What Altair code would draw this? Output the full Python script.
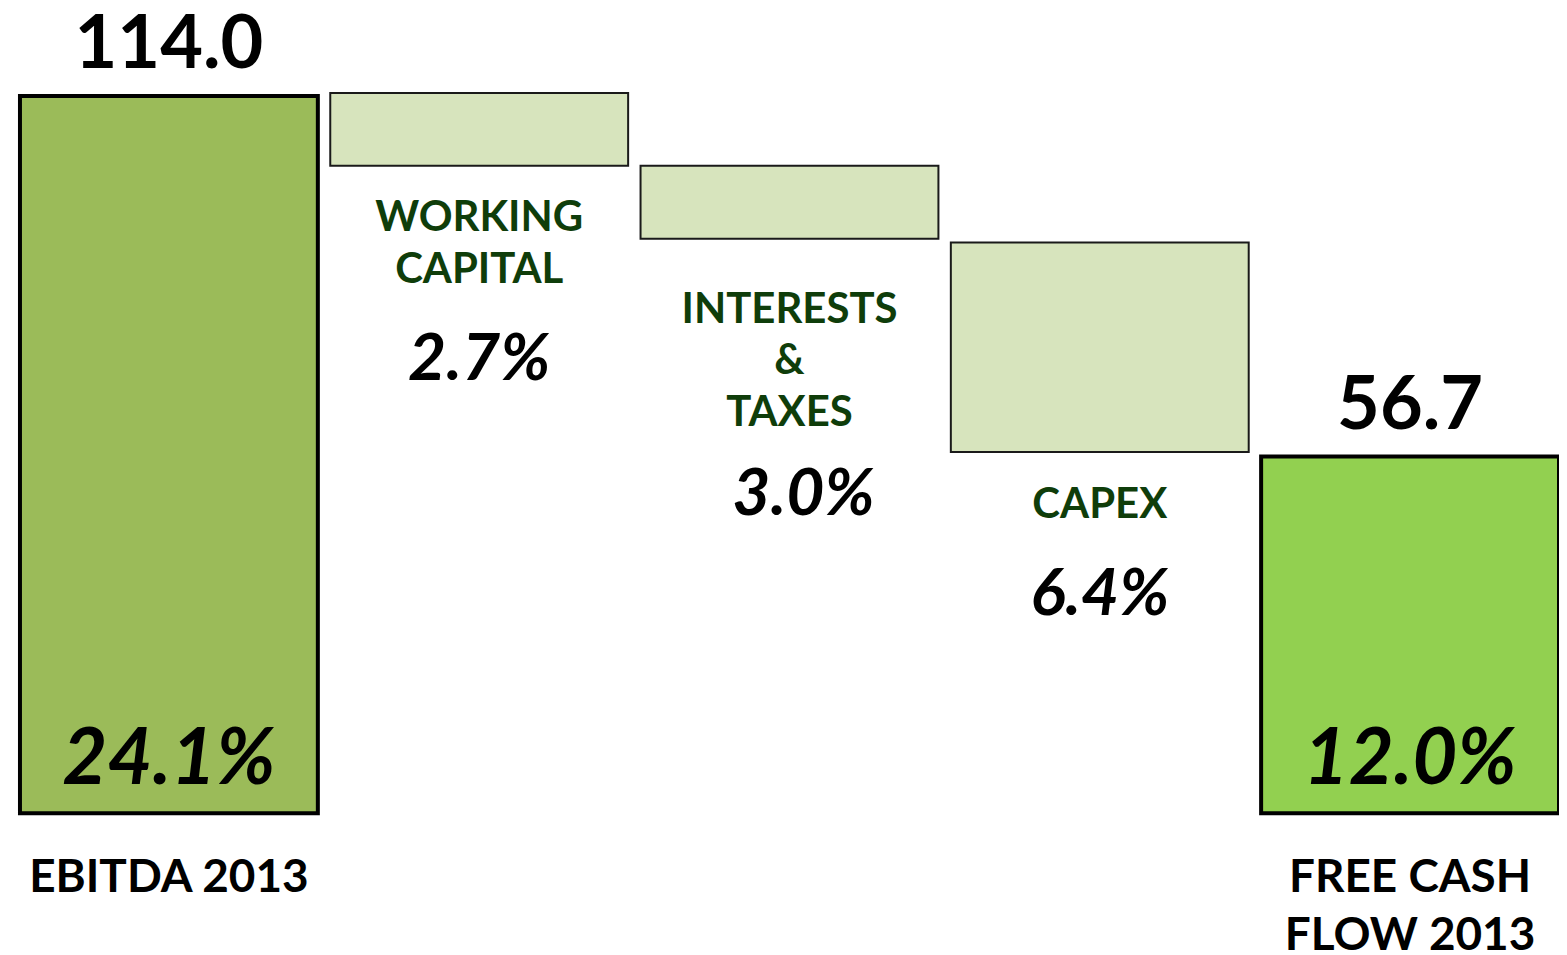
import altair as alt
import pandas as pd

# ---- data ----
categories = ["EBITDA 2013", "WORKING CAPITAL", "INTERESTS & TAXES", "CAPEX", "FREE CASH FLOW 2013"]
bar_start = [0.0, 114.5, 102.9, 90.7, 0.0]
bar_end = [114.0, 102.9, 91.3, 57.4, 56.7]
bar_kind = ["total", "decrease", "decrease", "decrease", "total"]
value_labels = ["114.0", "", "", "", "56.7"]
pct_labels = ["24.1%", "2.7%", "3.0%", "6.4%", "12.0%"]
name_labels = ["EBITDA 2013", "WORKING\nCAPITAL", "INTERESTS\n&\nTAXES", "CAPEX", "FREE CASH\nFLOW 2013"]

df = pd.DataFrame({
    "cat": categories,
    "start": bar_start,
    "end": bar_end,
    "kind": bar_kind,
    "value": value_labels,
    "pct": pct_labels,
    "name": name_labels,
})

FONT = "Lato"
GREEN_TXT = "#0F3D0A"
fills = ["#9BBB59", "#D7E4BD", "#D7E4BD", "#D7E4BD", "#92D050"]

x = alt.X("cat:N", sort=categories, axis=None,
          scale=alt.Scale(domain=categories, paddingInner=0.04, paddingOuter=0))
y_scale = alt.Scale(domain=[0, 127.8], nice=False, zero=False)
y_start = alt.Y("start:Q", scale=y_scale, axis=None)
y_end = alt.Y("end:Q", scale=y_scale, axis=None)
color = alt.Color("cat:N", scale=alt.Scale(domain=categories, range=fills), legend=None)

base = alt.Chart(df)

totals = base.transform_filter("datum.kind == 'total'").mark_bar(
    stroke="black", strokeWidth=4, strokeJoin="miter"
).encode(x=x, y=y_start, y2="end:Q", color=color)

decreases = base.transform_filter("datum.kind == 'decrease'").mark_bar(
    stroke="#1a1a1a", strokeWidth=2, strokeJoin="miter"
).encode(x=x, y=y_start, y2="end:Q", color=color)

value_text = base.transform_filter("datum.kind == 'total'").mark_text(
    font=FONT, fontWeight="bold", fontSize=74, color="black", dy=-28, baseline="alphabetic"
).encode(x=x, y=y_end, text="value:N")

pct_inside = base.transform_filter("datum.kind == 'total'").mark_text(
    font=FONT, fontWeight="bold", fontStyle="italic", fontSize=78, color="black",
    dy=-29, baseline="alphabetic"
).encode(x=x, y=y_start, text="pct:N")

total_names = base.transform_filter("datum.kind == 'total'").mark_text(
    font=FONT, fontWeight="bold", fontSize=46, color="black", dy=79,
    baseline="alphabetic", lineBreak="\n", lineHeight=58
).encode(x=x, y=y_start, text="name:N")

# layout offsets for the labels under the decrease bars (style, not data)
name_dy = {"WORKING CAPITAL": 65, "INTERESTS & TAXES": 84, "CAPEX": 66}
pct_dy = {"WORKING CAPITAL": 215, "INTERESTS & TAXES": 277, "CAPEX": 163}
pct_dx = {"WORKING CAPITAL": 0, "INTERESTS & TAXES": 14, "CAPEX": 0}

layers = [totals, decreases, value_text, pct_inside, total_names]
for c in categories[1:4]:
    sub = base.transform_filter(alt.datum.cat == c)
    layers.append(sub.mark_text(
        font=FONT, fontWeight="bold", fontSize=42, color=GREEN_TXT, dy=name_dy[c],
        baseline="alphabetic", lineBreak="\n", lineHeight=52
    ).encode(x=x, y=y_end, text="name:N"))
    layers.append(sub.mark_text(
        font=FONT, fontWeight="bold", fontStyle="italic", fontSize=66, color="black",
        dy=pct_dy[c], dx=pct_dx[c], baseline="alphabetic"
    ).encode(x=x, y=y_end, text="pct:N"))

chart = alt.layer(*layers).properties(
    width=1543, height=806,
    autosize=alt.AutoSizeParams(type="none"),
    padding={"left": 12, "top": 0, "right": 0, "bottom": 140},
    background="white",
).configure_view(strokeWidth=0)

chart.save("out.html", embed_options={"renderer": "svg", "actions": False})
